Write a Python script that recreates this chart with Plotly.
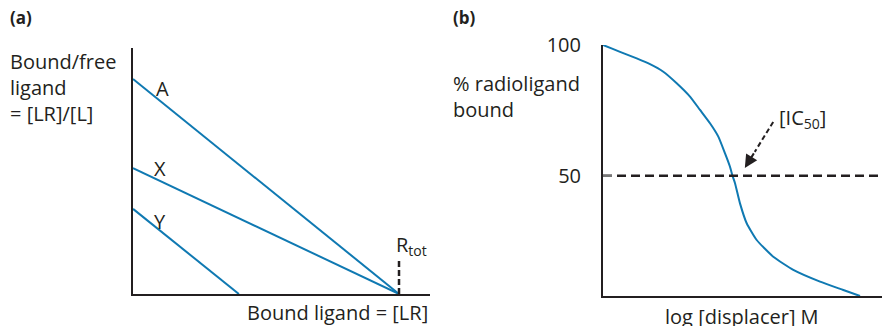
import plotly.graph_objects as go

W, H = 882, 326
BLUE = "#0f79b2"
INK = "#231f20"
FONT = "Open Sans"
FS = 20

# ---------- Panel (a): Scatchard-type lines ----------
r_tot = 1.0
a_lines = ["A", "X", "Y"]
a_intercepts = [0.874, 0.512, 0.346]     # bound/free at [LR] = 0
a_xintercepts = [r_tot, r_tot, 0.398]    # [LR] where bound/free = 0
a_xrange = [0, 1.1165]
a_yrange = [0, 1.0]

# ---------- Panel (b): displacement curve ----------
log_disp = [-10.0, -9.957, -9.634, -9.275, -8.989, -8.703, -8.415, -8.129, -7.914,
            -7.699, -7.520, -7.376, -7.269, -7.215, -7.161, -7.054, -6.910, -6.695,
            -6.338, -5.908, -5.333, -4.832, -4.473]
pct_bound = [100.0, 99.7, 97.4, 94.9, 92.7, 89.8, 85.4, 80.3, 75.2,
             70.1, 65.0, 58.6, 53.5, 50.0, 47.2, 39.5, 31.9, 25.5,
             19.1, 14.1, 9.6, 6.4, 4.1]
b_tickvals = [50, 100]
b_ticktext = ["50", "100"]
b_xrange = [-10, -4]
b_yrange = [4.1, 100]
ic50_tip = (-6.95, 53.0)
ic50_tail = (-6.34, 70.6)

fig = go.Figure()

for name, y0, x1 in zip(a_lines, a_intercepts, a_xintercepts):
    fig.add_trace(go.Scatter(x=[0, x1], y=[y0, 0], mode="lines",
                             line=dict(color=BLUE, width=2), xaxis="x", yaxis="y",
                             showlegend=False, hoverinfo="skip"))

fig.add_trace(go.Scatter(x=log_disp, y=pct_bound, mode="lines",
                         line=dict(color=BLUE, width=2, shape="spline", smoothing=0.5),
                         xaxis="x2", yaxis="y2", showlegend=False, hoverinfo="skip"))

# horizontal dashed 50% line
fig.add_trace(go.Scatter(x=[b_xrange[0], b_xrange[1]], y=[50, 50], mode="lines",
                         line=dict(color=INK, width=2.5, dash="9px,5px"),
                         xaxis="x2", yaxis="y2", showlegend=False, hoverinfo="skip"))

# vertical dashed R_tot marker
fig.add_trace(go.Scatter(x=[r_tot, r_tot], y=[0, 0.142], mode="lines",
                         line=dict(color=INK, width=2.5, dash="6px,3px"),
                         xaxis="x", yaxis="y", showlegend=False, hoverinfo="skip"))

# dashed shaft of IC50 arrow
mid = (ic50_tip[0] + 0.35 * (ic50_tail[0] - ic50_tip[0]),
       ic50_tip[1] + 0.35 * (ic50_tail[1] - ic50_tip[1]))
fig.add_trace(go.Scatter(x=[ic50_tail[0], mid[0]], y=[ic50_tail[1], mid[1]], mode="lines",
                         line=dict(color=INK, width=2, dash="5px,3px"),
                         xaxis="x2", yaxis="y2", showlegend=False, hoverinfo="skip"))

axis_common = dict(showgrid=False, zeroline=False, showline=True, linecolor=INK,
                   linewidth=2, ticks="", showticklabels=False, fixedrange=True,
                   automargin=False)

fig.update_layout(
    width=W, height=H,
    margin=dict(l=0, r=0, t=0, b=0, pad=0),
    paper_bgcolor="white", plot_bgcolor="white",
    font=dict(family=FONT, size=FS, color=INK),
    showlegend=False,
    xaxis=dict(domain=[133 / W, 430 / W], range=a_xrange, anchor="y", **axis_common),
    yaxis=dict(domain=[1 - 294 / H, 1 - 48 / H], range=a_yrange, anchor="x", **axis_common),
    xaxis2=dict(domain=[603 / W, 1.0], range=b_xrange, anchor="y2", **axis_common),
    yaxis2=dict(domain=[1 - 296 / H, 1 - 45 / H], range=b_yrange, anchor="x2",
                showgrid=False, zeroline=False, showline=True, linecolor=INK, linewidth=2,
                ticks="inside", ticklen=9, tickwidth=2, tickcolor="#777",
                tickvals=b_tickvals, ticktext=b_ticktext, showticklabels=True,
                ticklabelstandoff=16, tickfont=dict(size=FS, color=INK), fixedrange=True,
                automargin=False),
)

ann = []
def txt(x, y, s, xanchor="left", yanchor="middle", size=FS, xref="paper", yref="paper", align="left"):
    ann.append(dict(x=x, y=y, xref=xref, yref=yref, text=s, showarrow=False,
                    xanchor=xanchor, yanchor=yanchor, align=align,
                    font=dict(family=FONT, size=size, color=INK)))

def px(xp):
    return xp / W

def py(yp):
    return 1 - yp / H

txt(px(8), py(17), "<b>(a)</b>", size=17)
txt(px(451), py(17), "<b>(b)</b>", size=17)
txt(px(8), py(87), "Bound/free<br>ligand<br>= [LR]/[L]")
txt(px(451), py(96), "% radioligand<br>bound")
txt(px(337), py(312), "Bound ligand = [LR]", xanchor="center")
txt(px(742), py(316), "log [displacer] M", xanchor="center")

# line labels
label_pos = {"A": (162, 88), "X": (160, 168), "Y": (160, 221)}
for name in a_lines:
    lx, ly = label_pos[name]
    txt(px(lx), py(ly), name, xanchor="center")

txt(px(394), py(245), "R<sub>tot</sub>")
txt(px(777), py(118), "[IC<sub>50</sub>]")

# arrow head for IC50
ann.append(dict(x=ic50_tip[0], y=ic50_tip[1], xref="x2", yref="y2",
                ax=mid[0], ay=mid[1], axref="x2", ayref="y2", text="",
                showarrow=True, arrowhead=2, arrowsize=1.3, arrowwidth=2, arrowcolor=INK))

fig.update_layout(annotations=ann)
fig.write_html("out.html", config={"displayModeBar": False},
               post_script="document.body.style.margin='0';document.body.style.overflow='hidden';")
